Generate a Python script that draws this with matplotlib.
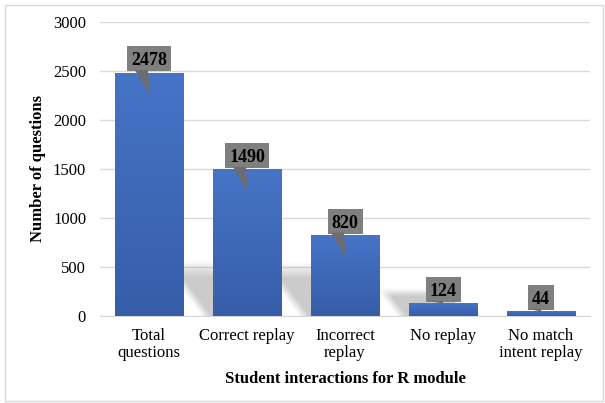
import numpy as np
import matplotlib.pyplot as plt
from matplotlib.patches import Polygon, Rectangle

categories = ["Total\nquestions", "Correct replay", "Incorrect\nreplay",
              "No replay", "No match\nintent replay"]
counts = [2478, 1490, 820, 124, 44]
y_ticks = [0, 500, 1000, 1500, 2000, 2500, 3000]

plt.rcParams["font.family"] = ["Liberation Serif", "DejaVu Serif"]

W, H = 605, 403
fig = plt.figure(figsize=(W / 100, H / 100), dpi=100)
ax_l, ax_r, ax_t, ax_b = 100, 590, 22, 316
ax = fig.add_axes([ax_l / W, 1 - ax_b / H, (ax_r - ax_l) / W, (ax_b - ax_t) / H])

x = np.arange(len(counts))
xlim = (-0.5, len(counts) - 0.5)
ylim = (0, 3000)
# data units per pixel, used for the callouts and shadows
ux = (xlim[1] - xlim[0]) / (ax_r - ax_l)
uy = (ylim[1] - ylim[0]) / (ax_b - ax_t)

bar_w = 0.7

# soft shadows behind the bars, cast up and to the left
shadows = {1: (570, 0.42), 2: (550, 0.42), 3: (280, 0.22)}
for i, (sh, sdx) in shadows.items():
    xb = x[i] - bar_w / 2 - 0.12
    verts = [(xb, 0), (xb + bar_w, 0), (xb + bar_w - sdx, sh), (xb - sdx, sh)]
    poly = Polygon(verts, closed=True, facecolor="none", edgecolor="none")
    ax.add_patch(poly)
    ny, nx = 120, 120
    gy, gx = np.mgrid[0:1:ny * 1j, 0:1:nx * 1j]
    xs = (xb - sdx) + gx * (bar_w + sdx)
    s = (xs - (xb - sdx * gy)) / bar_w
    a = 0.34 * np.clip((1 - gy) / 0.3, 0, 1) * np.clip(s / 0.15, 0, 1)
    rgba = np.zeros((ny, nx, 4))
    rgba[..., :3] = 0.4
    rgba[..., 3] = a
    im = ax.imshow(rgba, extent=[xb - sdx, xb + bar_w, 0, sh], origin="lower",
                   aspect="auto", zorder=1, interpolation="bilinear")
    im.set_clip_path(poly)

# bars with a light top-to-bottom gradient
bars = ax.bar(x, counts, width=bar_w, color="#4472c4", linewidth=0, zorder=3)
top = np.array([70, 116, 198]) / 255
bot = np.array([55, 93, 168]) / 255
g = np.linspace(0, 1, 256)[:, None]
grad = (bot + (top - bot) * g).reshape(256, 1, 3)
for b in bars:
    ax.imshow(grad, extent=[b.get_x(), b.get_x() + b.get_width(), 0, b.get_height()],
              origin="lower", aspect="auto", zorder=3, interpolation="bilinear")

# value callouts
box_gray = "#7f7f7f"
for xi, v in zip(x, counts):
    label = str(v)
    bw = (9 * len(label) + 8) * ux
    bh = 25 * uy
    y0 = v + 2 * uy
    ax.add_patch(Rectangle((xi - bw / 2, y0), bw, bh, facecolor=box_gray,
                           edgecolor="none", zorder=5))
    drop = 22 if v / uy > 30 else 0
    tip = v - drop * uy
    ax.add_patch(Polygon([(xi - 14 * ux, y0 + uy), (xi - 1 * ux, y0 + uy), (xi + 1 * ux, tip)],
                         closed=True, facecolor="#6c6c74", edgecolor="none", zorder=5))
    ax.text(xi, y0 + bh / 2, label, ha="center", va="center_baseline",
            fontsize=13, fontweight="bold", color="black", zorder=6)

ax.set_xlim(*xlim)
ax.set_ylim(*ylim)
ax.set_yticks(y_ticks)
ax.set_xticks(x)
ax.set_xticklabels(categories, linespacing=1.05)
ax.tick_params(axis="both", length=0, labelsize=12)
ax.tick_params(axis="y", pad=10)
ax.tick_params(axis="x", pad=9)
ax.yaxis.grid(True, color="#d9d9d9", linewidth=1)
ax.set_axisbelow(True)
for side in ["top", "right", "left"]:
    ax.spines[side].set_visible(False)
ax.spines["bottom"].set_color("#d9d9d9")

ax.set_xlabel("Student interactions for R module", fontsize=12, fontweight="bold",
              labelpad=7)
ax.set_ylabel("Number of questions", fontsize=12, fontweight="bold", labelpad=5)

# thin frame round the whole chart
fig.patches.append(Rectangle((5 / W, 2 / H), 598 / W, 396 / H, transform=fig.transFigure,
                             fill=False, edgecolor="#d9d9d9", linewidth=1))

fig.savefig("out.png", dpi=100)
